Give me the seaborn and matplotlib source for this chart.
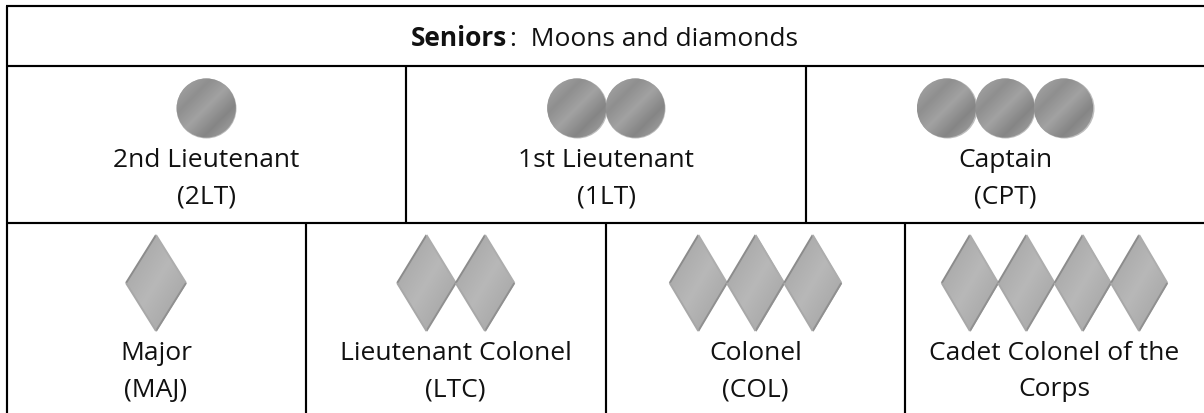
"""Cadet senior rank insignia table: moons and diamonds."""
import matplotlib
matplotlib.use("Agg")

import matplotlib.pyplot as plt
import numpy as np
import pandas as pd
import seaborn as sns
from matplotlib.colors import LinearSegmentedColormap
from matplotlib.path import Path as MPath
from matplotlib.patches import PathPatch

sns.set_theme(style="white")
plt.rcParams["font.family"] = ["Open Sans", "DejaVu Sans"]

# ── Table content ─────────────────────────────────────────────────────────────
TITLE_BOLD = "Seniors"
TITLE_REST = ":  Moons and diamonds"

MOON_NAMES = ["2nd Lieutenant\n(2LT)", "1st Lieutenant\n(1LT)", "Captain\n(CPT)"]
MOON_COUNTS = [1, 2, 3]

DIAMOND_NAMES = ["Major\n(MAJ)", "Lieutenant Colonel\n(LTC)", "Colonel\n(COL)",
                 "Cadet Colonel of the\nCorps"]
DIAMOND_COUNTS = [1, 2, 3, 4]

# ── Layout, in image pixels ───────────────────────────────────────────────────
W, H = 1204, 413
ROW_Y = [5.5, 66, 223, H]
MOON_EDGES = [6.5, 406, 806, W]
DIAMOND_EDGES = [6.5, 305.5, 606, 905, W]
MOON_Y, MOON_R, MOON_STEP = 108, 30, 58.5
DIAMOND_Y, DIAMOND_HH = 283, 48
DIAMOND_HW = [30, 29.3, 28.6, 28.2]
FS = 19
TXT = "#111111"

MOON_CMAP = LinearSegmentedColormap.from_list(
    "moon", [(0, "#aaaaaa"), (.3, "#8f8f8f"), (.5, "#a2a2a2"), (.72, "#858585"),
             (.9, "#9c9c9c"), (1, "#dcdcdc")])
DIAMOND_CMAP = LinearSegmentedColormap.from_list(
    "diamond", [(0, "#a2a2a2"), (.5, "#b8b8b8"), (1, "#a0a0a0")])


def offsets(center, n, step):
    return center + (np.arange(n) - (n - 1) / 2) * step


def gradient_fill(ax, x, y, hw, hh, path, cmap):
    u, v = np.meshgrid(np.linspace(0, 1, 64), np.linspace(0, 1, 64))
    im = ax.imshow((u + v) / 2, cmap=cmap, vmin=0, vmax=1, aspect="auto",
                   extent=(x - hw, x + hw, y + hh, y - hh), zorder=3)
    im.set_clip_path(PathPatch(path, transform=ax.transData))


fig = plt.figure(figsize=(W / 100, H / 100), dpi=100, facecolor="white")
ax = fig.add_axes([0, 0, 1, 1])

# ── Moons ─────────────────────────────────────────────────────────────────────
moons = pd.DataFrame([
    {"x": x, "y": MOON_Y, "rank": name}
    for name, n, l, r in zip(MOON_NAMES, MOON_COUNTS, MOON_EDGES[:-1], MOON_EDGES[1:])
    for x in offsets((l + r) / 2, n, MOON_STEP)
])
sns.scatterplot(data=moons, x="x", y="y", marker="o", s=(2 * MOON_R * .72) ** 2,
                color="#bdbdbd", linewidth=0, legend=False, zorder=2, ax=ax)
for x in moons["x"]:
    circle = MPath.circle((x, MOON_Y), MOON_R - .4)
    gradient_fill(ax, x, MOON_Y, MOON_R, MOON_R, circle, MOON_CMAP)

# ── Diamonds ──────────────────────────────────────────────────────────────────
rows = []
for name, n, hw, l, r in zip(DIAMOND_NAMES, DIAMOND_COUNTS, DIAMOND_HW,
                             DIAMOND_EDGES[:-1], DIAMOND_EDGES[1:]):
    for x in offsets((l + r) / 2, n, 2 * hw):
        rows.append({"x": x, "y": DIAMOND_Y, "hw": hw, "rank": name})
diamonds = pd.DataFrame(rows)
for hw, grp in diamonds.groupby("hw"):
    shape = MPath([(0, -DIAMOND_HH), (hw, 0), (0, DIAMOND_HH), (-hw, 0), (0, -DIAMOND_HH)], closed=True)
    sns.scatterplot(data=grp, x="x", y="y", marker=shape, s=(2 * DIAMOND_HH * .72) ** 2,
                    color="#a8a8a8", linewidth=0, legend=False, zorder=2, ax=ax)
for x, hw in zip(diamonds["x"], diamonds["hw"]):
    top, right = (x, DIAMOND_Y - DIAMOND_HH), (x + hw, DIAMOND_Y)
    bottom, left = (x, DIAMOND_Y + DIAMOND_HH), (x - hw, DIAMOND_Y)
    shape = MPath([top, right, bottom, left, top], closed=True)
    gradient_fill(ax, x, DIAMOND_Y, hw, DIAMOND_HH, shape, DIAMOND_CMAP)
    # bevel along the diamond edges
    for a, b, col in [(left, top, "#8c8c8c"), (top, right, "#adadad"),
                      (right, bottom, "#909090"), (bottom, left, "#a8a8a8")]:
        ax.plot([a[0], b[0]], [a[1], b[1]], color=col, lw=1.4, zorder=4,
                solid_capstyle="butt")

# ── Rules ─────────────────────────────────────────────────────────────────────
LW = 1.55
ax.hlines(ROW_Y[:3], MOON_EDGES[0] - 1, W, color="black", lw=LW, zorder=5)
ax.vlines(MOON_EDGES[0], ROW_Y[0], H, color="black", lw=LW, zorder=5)
ax.vlines(MOON_EDGES[1:-1], ROW_Y[1], ROW_Y[2], color="black", lw=LW, zorder=5)
ax.vlines(DIAMOND_EDGES[1:-1], ROW_Y[2], H, color="black", lw=LW, zorder=5)

# ── Text ──────────────────────────────────────────────────────────────────────
ax.text(411, 46, TITLE_BOLD, fontsize=FS, fontweight="bold", ha="left", va="baseline", color=TXT)
ax.text(510, 46, TITLE_REST, fontsize=FS, ha="left", va="baseline", color=TXT)
for names, edges, first, second in [(MOON_NAMES, MOON_EDGES, 167, 203),
                                    (DIAMOND_NAMES, DIAMOND_EDGES, 359.5, 396.5)]:
    for name, l, r in zip(names, edges[:-1], edges[1:]):
        upper, lower = name.split("\n")
        ax.text((l + r) / 2, first, upper, fontsize=FS, ha="center", va="baseline", color=TXT)
        ax.text((l + r) / 2, second, lower, fontsize=FS, ha="center", va="baseline", color=TXT)

ax.set_xlim(0, W)
ax.set_ylim(H, 0)
ax.axis("off")
fig.savefig("out.png", dpi=100, facecolor="white")
plt.close(fig)
